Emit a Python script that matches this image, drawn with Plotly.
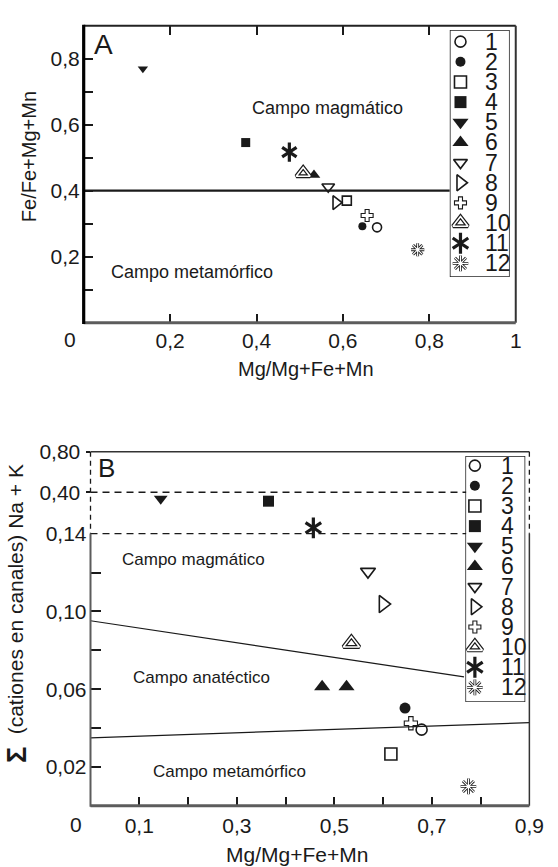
import plotly.graph_objects as go

W, H = 558, 867
FONT = "Liberation Sans, Arial, Helvetica, sans-serif"
INK = "#1a1a1a"

# ---------------- data ----------------
series = ["1", "2", "3", "4", "5", "6", "7", "8", "9", "10", "11", "12"]

# Panel A : Mg/(Mg+Fe+Mn) vs Fe/(Fe+Mg+Mn)
a_x = [0.679, 0.645, 0.609, 0.375, 0.137, 0.533, 0.566, 0.584, 0.656, 0.508, 0.476, 0.773]
a_y = [0.289, 0.292, 0.370, 0.546, 0.770, 0.448, 0.412, 0.364, 0.325, 0.453, 0.517, 0.221]

# Panel B : Mg/(Mg+Fe+Mn) vs sum of channel cations Na + K
b_x = [[0.679], [0.645], [0.616], [0.365], [0.144], [0.475, 0.525],
       [0.569], [0.600], [0.657], [0.535], [0.457], [0.775]]
b_y = [[0.0392], [0.0503], [0.0267], [0.344], [0.360], [0.0613, 0.0613],
       [0.1205], [0.1038], [0.0425], [0.0835], [0.177], [0.010]]

# field boundaries
a_bound_x = [0.0, 0.847]
a_bound_y = [0.40, 0.40]
b_upper_x = [0.0, 0.766]
b_upper_y = [0.0952, 0.0663]
b_lower_x = [0.0, 0.90]
b_lower_y = [0.0350, 0.0428]

# ticks
a_xticks = [0.2, 0.4, 0.6, 0.8, 1.0]
a_xlabels = ["0,2", "0,4", "0,6", "0,8", "1"]
a_yticks = [0.1, 0.2, 0.3, 0.4, 0.5, 0.6, 0.7, 0.8]
a_ylabels = ["", "0,2", "", "0,4", "", "0,6", "", "0,8"]
b_xticks = [0.1, 0.2, 0.3, 0.4, 0.5, 0.6, 0.7, 0.8, 0.9]
b_xlabels = ["0,1", "", "0,3", "", "0,5", "", "0,7", "", "0,9"]
b_yticks = [0.02, 0.04, 0.06, 0.08, 0.10, 0.12, 0.14]
b_ylabels = ["0,02", "", "0,06", "", "0,10", "", "0,14"]
b_breaks = [0.14, 0.40, 0.80]          # axis segments: [0,0.14] [0.14,0.40] [0.40,0.80]
b_break_labels = ["0,40", "0,80"]

# ---------------- style ----------------
LAYERS = [
    [("circle-open", INK, 1.6)],
    [("circle", INK, 0)],
    [("square-open", INK, 1.6)],
    [("square", INK, 0)],
    [("triangle-down", INK, 0)],
    [("triangle-up", INK, 0)],
    [("triangle-down-open", INK, 1.6)],
    [("triangle-right-open", INK, 1.6)],
    [("cross-open", INK, 1.1)],
    [("triangle-up-open", INK, 4.0), ("triangle-up-open", "white", 1.6)],
    [("y-up", INK, 3.2), ("y-down", INK, 3.2)],
    [("asterisk-open", INK, 2.8), ("asterisk-open", "white", 1.2)],
]
SIZE_A = [9, 8, 9, 9, 9, 11, 11, 12, 10, 12, 12, 11]
SIZE_B = [11, 11, 12, 11, 12, 14, 13, 15, 11, 14, 13, 13]
SIZE_L = [11, 10, 12, 12, 14, 14, 12, 14, 10, 13, 13, 13]


def px(x):
    return x / W


def py(y):
    return 1 - y / H


fig = go.Figure()


def add_points(xs, ys, k, size, xa, ya):
    for sym, col, lw in LAYERS[k]:
        fig.add_trace(go.Scatter(
            x=xs, y=ys, mode="markers", xaxis=xa, yaxis=ya, showlegend=False,
            hoverinfo="skip", cliponaxis=False,
            marker=dict(symbol=sym, size=size, color=col,
                        line=dict(color=col, width=lw))))


# Panel A
for k in range(len(series)):
    add_points([a_x[k]], [a_y[k]], k, SIZE_A[k], "x", "y")
fig.add_trace(go.Scatter(x=a_bound_x, y=a_bound_y, mode="lines", xaxis="x", yaxis="y",
                         line=dict(color=INK, width=2.2), showlegend=False, hoverinfo="skip"))

# Panel B (points routed to the broken-axis segment that holds their value)
seg_axes = ["y2", "y3", "y4"]
for k in range(len(series)):
    for xv, yv in zip(b_x[k], b_y[k]):
        s = 0 if yv <= b_breaks[0] else (1 if yv <= b_breaks[1] else 2)
        add_points([xv], [yv], k, SIZE_B[k], "x2", seg_axes[s])
for bx, by in ((b_upper_x, b_upper_y), (b_lower_x, b_lower_y)):
    fig.add_trace(go.Scatter(x=bx, y=by, mode="lines", xaxis="x2", yaxis="y2",
                             line=dict(color=INK, width=1.2), showlegend=False, hoverinfo="skip"))

# Legends (own hidden axes)
for k in range(len(series)):
    add_points([0.17], [k + 1], k, SIZE_L[k], "x4", "y5")
    add_points([0.15], [k + 1], k, SIZE_L[k], "x5", "y6")

tickfont = dict(family=FONT, size=21, color=INK)
common = dict(showgrid=False, zeroline=False, showline=False, ticks="inside",
              tickcolor=INK, tickwidth=1.5, tickfont=tickfont)

A_L, A_R, A_T, A_B = 86, 530, 14, 315
B_L, B_R, B_T, B_40, B_14, B_B = 93, 544, 446, 487, 529, 805

fig.update_layout(
    width=W, height=H, margin=dict(l=0, r=0, t=0, b=0),
    paper_bgcolor="white", plot_bgcolor="white",
    font=dict(family=FONT, color=INK),
    xaxis=dict(domain=[px(A_L), px(A_R)], range=[0, 1], anchor="y",
               tickvals=a_xticks, ticktext=a_xlabels, ticklen=9, mirror="ticks",
               ticklabelstandoff=3, **common),
    yaxis=dict(domain=[py(A_B), py(A_T)], range=[0, 0.9], anchor="x",
               tickvals=a_yticks, ticktext=a_ylabels, ticklen=9,
               ticklabelstandoff=3, **common),
    yaxis7=dict(domain=[py(A_B), py(A_T)], range=[0, 0.9], anchor="x", overlaying="y",
                side="right", tickvals=[0.1], showticklabels=False, ticklen=8, **common),
    xaxis2=dict(domain=[px(B_L), px(B_R)], range=[0, 0.9], anchor="y2",
                tickvals=b_xticks, ticktext=b_xlabels, ticklen=9,
                ticklabelstandoff=5, **common),
    yaxis2=dict(domain=[py(B_B), py(B_14)], range=[0, b_breaks[0]], anchor="x2",
                tickvals=b_yticks, ticktext=b_ylabels, ticklen=10,
                ticklabelstandoff=3, **common),
    yaxis8=dict(domain=[py(B_B), py(B_14)], range=[0, b_breaks[0]], anchor="x2",
                overlaying="y2", side="right", tickvals=b_yticks[:2],
                showticklabels=False, ticklen=9, **common),
    yaxis3=dict(domain=[py(B_14), py(B_40)], range=[b_breaks[0], b_breaks[1]], anchor="x2",
                tickvals=[b_breaks[1]], ticktext=[b_break_labels[0]], ticklabelstandoff=1,
                **{**common, "ticks": "outside"}, ticklen=4),
    yaxis4=dict(domain=[py(B_40), py(B_T)], range=[b_breaks[1], b_breaks[2]], anchor="x2",
                tickvals=[b_breaks[2]], ticktext=[b_break_labels[1]], ticklabelstandoff=1,
                **{**common, "ticks": "outside"}, ticklen=4),
    xaxis3=dict(domain=[px(B_L), px(B_R)], range=[0, 0.9], anchor="y4", side="top",
                tickvals=b_xticks[:-1], showticklabels=False, ticklen=9, **common),
    xaxis4=dict(domain=[px(463), px(523)], range=[0, 1], anchor="y5", visible=False),
    yaxis5=dict(domain=[py(268), py(19)], range=[12.64, 0.46], anchor="x4", visible=False),
    xaxis5=dict(domain=[px(479), px(539)], range=[0, 1], anchor="y6", visible=False),
    yaxis6=dict(domain=[py(699), py(451)], range=[12.69, 0.56], anchor="x5", visible=False),
)

shapes = []


def seg(x0, y0, x1, y1, color=INK, width=1.5, dash="solid", layer="above"):
    shapes.append(dict(type="line", xref="paper", yref="paper",
                       x0=px(x0), y0=py(y0), x1=px(x1), y1=py(y1), layer=layer,
                       line=dict(color=color, width=width, dash=dash)))


# frame A
seg(A_L, A_T, A_R, A_T, "#222", 2)
seg(A_R, A_T, A_R, A_B, "#333", 2)
seg(A_L, A_B, A_R, A_B, "#5c5c5c", 3)
seg(A_L, A_T - 1, A_L, A_B + 1.5, "#000", 3.2)
# frame B
seg(B_L, B_T, B_R, B_T, "#333", 1.5)
seg(B_L, B_T, B_L, B_14, INK, 1.3, "5px,4px")
seg(B_R, B_T, B_R, B_14, INK, 1.3, "5px,4px")
seg(B_L, B_40, 479, B_40, INK, 1.3, "7px,5px")
seg(B_L, B_14, 479, B_14, INK, 1.3, "7px,5px")
seg(B_L, B_14, B_L, B_B + 1, "#5c5c5c", 2)
seg(B_R, B_14, B_R, B_B, "#333", 1.5)
seg(B_L, B_B, B_R, B_B, "#5c5c5c", 3)
# legend boxes (below the legend markers)
for (l, t, r, b) in ((463, 19, 523, 268), (479, 451, 539, 699)):
    shapes.append(dict(type="rect", xref="paper", yref="paper", layer="below",
                       x0=px(l), y0=py(b), x1=px(r), y1=py(t),
                       fillcolor="white", line=dict(color=INK, width=1.5)))
fig.update_layout(shapes=shapes)

ann = []


def text(t, x, y, xref, yref, size, xanchor="center", **kw):
    ann.append(dict(text=t, x=x, y=y, xref=xref, yref=yref, showarrow=False,
                    xanchor=xanchor, yanchor="middle",
                    font=dict(family=FONT, size=size, color=INK), **kw))


# axis titles and corner zeros
text("Fe/Fe+Mg+Mn", px(30), py(147), "paper", "paper", 20, textangle=-90)
text("Mg/Mg+Fe+Mn", px(314), py(362), "paper", "paper", 20)
text("0", px(72), py(332), "paper", "paper", 21)
text("<b>Σ</b>", px(17), py(754), "paper", "paper", 27, textangle=-90)
text("(cationes en canales) Na + K", px(16), py(596), "paper", "paper", 21, textangle=-90)
text("Mg/Mg+Fe+Mn", px(305), py(854), "paper", "paper", 21)
text("0", px(78), py(824), "paper", "paper", 21)

# panel letters and field names
text("A", 0.047, 0.842, "x", "y", 28)
text("Campo magmático", 0.565, 0.651, "x", "y", 18)
text("Campo metamórfico", 0.25, 0.155, "x", "y", 18)
text("B", 0.032, 0.644, "x2", "y4", 26)
text("Campo magmático", 0.212, 0.1266, "x2", "y2", 17)
text("Campo anatéctico", 0.228, 0.0658, "x2", "y2", 17)
text("Campo metamórfico", 0.285, 0.0177, "x2", "y2", 17)

# legend numbers
for k, name in enumerate(series):
    text(name, 0.56, k + 1, "x4", "y5", 23, xanchor="left")
    text(name, 0.56, k + 1, "x5", "y6", 23, xanchor="left")

fig.update_layout(annotations=ann)
fig.write_html("out.html", config={"displayModeBar": False},
               post_script="document.body.style.margin='0';"
                           "document.body.style.overflow='hidden';")
